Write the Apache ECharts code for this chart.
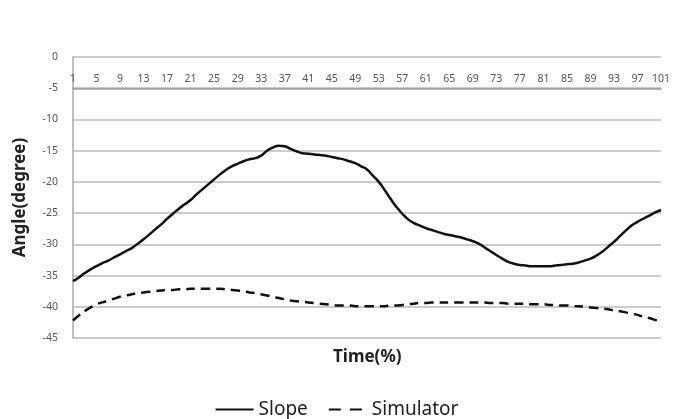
<!DOCTYPE html>
<html>
<head>
<meta charset="utf-8">
<script src="https://cdn.jsdelivr.net/npm/echarts@6/dist/echarts.min.js"></script>
<style>
  html, body { margin: 0; padding: 0; background: #fff; }
  #container { width: 673px; height: 419px; }
</style>
</head>
<body>
<div id="container"></div>
<script>
var timeLabels = [];
for (var t = 1; t <= 101; t++) timeLabels.push(String(t));

var slope = [
  -35.9, -35.3, -34.6, -34.0, -33.5, -33.0, -32.6, -32.1, -31.6, -31.1,
  -30.6, -29.9, -29.2, -28.4, -27.6, -26.8, -25.9, -25.1, -24.3, -23.6,
  -22.9, -22.0, -21.2, -20.4, -19.6, -18.8, -18.1, -17.5, -17.1, -16.7,
  -16.4, -16.2, -15.8, -15.0, -14.5, -14.2, -14.3, -14.7, -15.1, -15.4,
  -15.5, -15.6, -15.7, -15.8, -16.0, -16.2, -16.4, -16.7, -17.0, -17.5,
  -18.0, -19.0, -20.0, -21.3, -22.7, -24.0, -25.1, -26.0, -26.6, -27.0,
  -27.4, -27.7, -28.0, -28.3, -28.5, -28.7, -28.9, -29.2, -29.5, -29.9,
  -30.5, -31.1, -31.7, -32.3, -32.8, -33.1, -33.3, -33.4, -33.5, -33.5,
  -33.5, -33.5, -33.4, -33.3, -33.2, -33.1, -32.9, -32.6, -32.3, -31.8,
  -31.2, -30.4, -29.6, -28.7, -27.8, -27.0, -26.4, -25.9, -25.4, -24.9,
  -24.5
];

var simulator = [
  -42.2, -41.4, -40.7, -40.1, -39.6, -39.3, -39.0, -38.7, -38.4, -38.2,
  -38.0, -37.8, -37.7, -37.6, -37.5, -37.4, -37.3, -37.3, -37.2, -37.2,
  -37.1, -37.1, -37.1, -37.1, -37.1, -37.1, -37.2, -37.3, -37.4, -37.5,
  -37.7, -37.8, -38.0, -38.2, -38.4, -38.6, -38.8, -39.0, -39.1, -39.2,
  -39.3, -39.4, -39.5, -39.6, -39.7, -39.8, -39.8, -39.8, -39.9, -39.9,
  -39.9, -39.9, -39.9, -39.9, -39.8, -39.8, -39.7, -39.6, -39.5, -39.4,
  -39.4, -39.3, -39.3, -39.3, -39.3, -39.3, -39.3, -39.3, -39.3, -39.3,
  -39.3, -39.4, -39.4, -39.4, -39.5, -39.5, -39.5, -39.5, -39.6, -39.6,
  -39.6, -39.7, -39.7, -39.8, -39.8, -39.9, -39.9, -40.0, -40.1, -40.2,
  -40.3, -40.4, -40.6, -40.7, -40.9, -41.1, -41.3, -41.6, -41.8, -42.1,
  -42.4
];

var dom = document.getElementById('container');
var myChart = echarts.init(dom, null, { renderer: 'canvas' });

var font = '"Noto Sans", sans-serif';
var option = {
  animation: false,
  textStyle: { fontFamily: font },
  grid: { left: 73, right: 5, top: 57, bottom: 81 },
  legend: {
    top: 395,
    left: 'center',
    itemWidth: 38,
    itemHeight: 14,
    itemGap: 20,
    itemStyle: { opacity: 0 },
    textStyle: { fontSize: 19, color: '#222', fontFamily: font },
    data: [
      'Slope',
      { name: 'Simulator', lineStyle: { type: [12, 9] } }
    ]
  },
  graphic: [{
    type: 'text',
    left: 371 - 38,
    top: 349,
    style: { text: 'Time(%)', font: 'bold 17px ' + font, fill: '#222' }
  }],
  xAxis: {
    type: 'category',
    data: timeLabels,
    boundaryGap: false,
    position: 'top',
    offset: -31.3,
    axisLine: { show: true, lineStyle: { color: '#999', width: 1.5 } },
    axisTick: { show: false },
    axisLabel: { interval: 3, color: '#555', fontSize: 10.5, margin: 4 },
    splitLine: { show: false }
  },
  yAxis: {
    type: 'value',
    min: -45,
    max: 0,
    interval: 5,
    name: 'Angle(degree)',
    nameLocation: 'middle',
    nameGap: 44,
    nameTextStyle: { fontSize: 17, fontWeight: 'bold', color: '#222' },
    axisLine: { show: true, lineStyle: { color: '#aaa', width: 1.5 } },
    axisTick: { show: false },
    axisLabel: { color: '#555', fontSize: 10.5, margin: 15 },
    splitLine: { lineStyle: { color: '#bbb', width: 1.5 } }
  },
  series: [
    {
      name: 'Slope',
      type: 'line',
      data: slope,
      smooth: true,
      symbol: 'none',
      lineStyle: { color: '#111', width: 2.5 },
      itemStyle: { color: '#111' }
    },
    {
      name: 'Simulator',
      type: 'line',
      data: simulator,
      smooth: true,
      symbol: 'none',
      lineStyle: { color: '#111', width: 2.5, type: [9, 6] },
      itemStyle: { color: '#111' }
    }
  ]
};

myChart.setOption(option);
window.addEventListener('resize', myChart.resize);
</script>
</body>
</html>
